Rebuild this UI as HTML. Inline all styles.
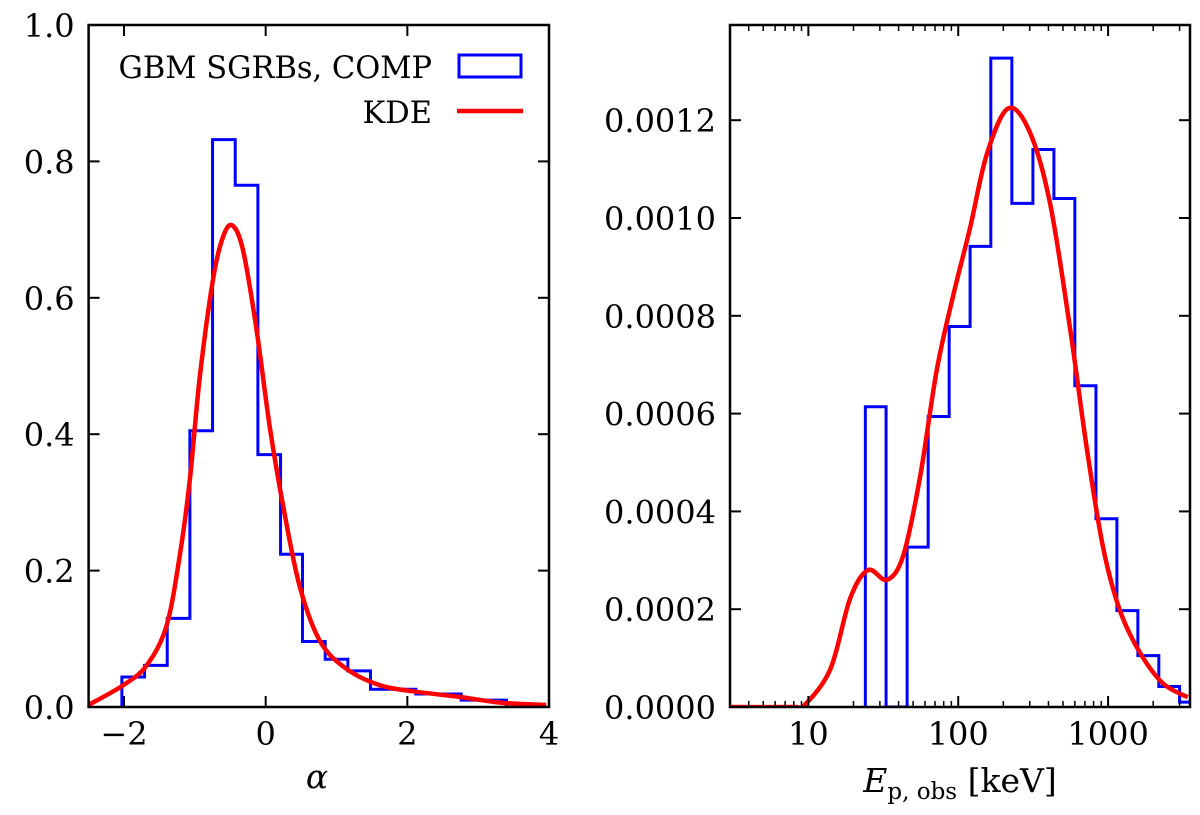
<!DOCTYPE html>
<html><head><meta charset="utf-8"><style>
html,body{margin:0;padding:0;background:#fff}
svg{display:block}
text{font-family:"DejaVu Serif","Liberation Serif",serif;fill:#000}
</style></head><body>
<svg id="chart" width="1200" height="815" viewBox="0 0 1200 815" xmlns="http://www.w3.org/2000/svg">
<g id="left"></g>
<g id="right"></g>
</svg>
<script>
// ---- left panel data (alpha) ----
const alphaEdges = [-2.03,-1.71,-1.39,-1.07,-0.75,-0.43,-0.11,0.21,0.52,0.84,1.16,1.48,1.80,2.12,2.44,2.76,3.08,3.40];
const alphaHist = [0.044,0.061,0.13,0.405,0.832,0.765,0.37,0.224,0.096,0.070,0.053,0.026,0.026,0.019,0.019,0.010,0.010];
const alphaKdeX = [-2.5,-2.01,-1.68,-1.40,-1.21,-1.07,-0.93,-0.74,-0.60,-0.47,-0.32,-0.13,0.06,0.25,0.48,0.77,1.14,1.61,2.08,2.72,3.35,3.96];
const alphaKdeY = [0.003,0.032,0.061,0.119,0.224,0.334,0.484,0.629,0.69,0.706,0.67,0.554,0.409,0.293,0.177,0.096,0.056,0.032,0.023,0.015,0.006,0.003];
const alphaXTicks = [-2,0,2,4];
const alphaXTickLabels = ["\u22122","0","2","4"];
const alphaYTicks = [0,0.2,0.4,0.6,0.8,1.0];
const alphaYTickLabels = ["0.0","0.2","0.4","0.6","0.8","1.0"];
// ---- right panel data (Ep) ----
const epEdges = [24,33,45.6,63,87,120,165,228,315,435,600,830,1145,1580,2180,3000,4150];
const epHist = [0.000614,0,0.000327,0.000594,0.000778,0.000942,0.001327,0.00103,0.00114,0.00104,0.000657,0.000385,0.000197,0.000105,0.000042,0.00001];
const epKdeX = [3,8,9.3,14,19,25,33.5,43,55.6,72,93,120,155,215,300,410,560,720,925,1200,1640,2330,3400];
const epKdeY = [0,0,0.000002,0.000077,0.000222,0.00028,0.00026,0.00031,0.00047,0.00069,0.000844,0.00098,0.00113,0.001224,0.001176,0.00103,0.00077,0.00053,0.000327,0.000197,0.00011,0.000048,0.00002];
const epXTicks = [10,100,1000];
const epXTickLabels = ["10","100","1000"];
const epYTicks = [0,0.0002,0.0004,0.0006,0.0008,0.0010,0.0012];
const epYTickLabels = ["0.0000","0.0002","0.0004","0.0006","0.0008","0.0010","0.0012"];

const NS="http://www.w3.org/2000/svg";
function mk(parent,tag,attrs){const e=document.createElementNS(NS,tag);for(const k in attrs)e.setAttribute(k,attrs[k]);parent.appendChild(e);return e;}

const FS=32;
const TOP=25,BOT=707;
const L={x0:88.6,x1:549,min:-2.5,max:4,ymax:1.0};
const lx=v=>L.x0+(v-L.min)/(L.max-L.min)*(L.x1-L.x0);
const ly=v=>BOT-v/L.ymax*(BOT-TOP);
const R={x0:730,x1:1190,lmin:Math.log10(3),lmax:Math.log10(3520),ymax:(BOT-TOP)/489000};
const rx=v=>R.x0+(Math.log10(v)-R.lmin)/(R.lmax-R.lmin)*(R.x1-R.x0);
const ry=v=>BOT-v/R.ymax*(BOT-TOP);

function stepPath(edges,vals,fx,fy){
  let d="M"+fx(edges[0])+","+fy(0);
  for(let i=0;i<vals.length;i++){d+=" L"+fx(edges[i])+","+fy(vals[i])+" L"+fx(edges[i+1])+","+fy(vals[i]);}
  d+=" L"+fx(edges[edges.length-1])+","+fy(0);
  return d;
}
function smoothPath(xs,ys,fx,fy){
  const p=xs.map((x,i)=>[fx(x),fy(ys[i])]);
  let d="M"+p[0][0]+","+p[0][1];
  for(let i=0;i<p.length-1;i++){
    const p0=p[Math.max(0,i-1)],p1=p[i],p2=p[i+1],p3=p[Math.min(p.length-1,i+2)];
    const c1=[p1[0]+(p2[0]-p0[0])/6,p1[1]+(p2[1]-p0[1])/6];
    const c2=[p2[0]-(p3[0]-p1[0])/6,p2[1]-(p3[1]-p1[1])/6];
    d+=` C${c1[0]},${c1[1]} ${c2[0]},${c2[1]} ${p2[0]},${p2[1]}`;
  }
  return d;
}

// ---- left panel ----
const gl=document.getElementById('left');
const cl=mk(gl,'clipPath',{id:'clipL'});mk(cl,'rect',{x:L.x0,y:TOP,width:L.x1-L.x0,height:BOT-TOP});
const hl=mk(gl,'path',{d:stepPath(alphaEdges,alphaHist,lx,ly),fill:'none',stroke:'#0000ff','stroke-width':3,'clip-path':'url(#clipL)'});


const kl=mk(gl,'path',{d:smoothPath(alphaKdeX,alphaKdeY,lx,ly),fill:'none',stroke:'#ff0000','stroke-width':4.5,'stroke-linejoin':'round','clip-path':'url(#clipL)'});


alphaXTicks.forEach((t,i)=>{
  const x=lx(t);
  mk(gl,'line',{x1:x,x2:x,y1:BOT,y2:BOT-11,stroke:'#000','stroke-width':2});
  mk(gl,'line',{x1:x,x2:x,y1:TOP,y2:TOP+11,stroke:'#000','stroke-width':2});
  const tx=mk(gl,'text',{x:x,y:BOT+38,'text-anchor':'middle','font-size':FS});
  tx.textContent=alphaXTickLabels[i];
  
  
});
alphaYTicks.forEach((t,i)=>{
  const y=ly(t);
  mk(gl,'line',{x1:L.x0,x2:L.x0+11,y1:y,y2:y,stroke:'#000','stroke-width':2});
  mk(gl,'line',{x1:L.x1,x2:L.x1-11,y1:y,y2:y,stroke:'#000','stroke-width':2});
  const tx=mk(gl,'text',{x:L.x0-14,y:y+12,'text-anchor':'end','font-size':FS});
  tx.textContent=alphaYTickLabels[i];
  
  
});
mk(gl,'rect',{x:L.x0,y:TOP,width:L.x1-L.x0,height:BOT-TOP,fill:'none',stroke:'#000','stroke-width':2.5});
const axl=mk(gl,'text',{x:317,y:788,'text-anchor':'middle','font-size':33,'font-style':'italic'});
axl.textContent='α';


// legend
const lg=mk(gl,'g',{});


const lt1=mk(lg,'text',{x:432,y:78,'text-anchor':'end','font-size':30.5});lt1.textContent='GBM SGRBs, COMP';


mk(lg,'rect',{x:459,y:55,width:62,height:22,fill:'none',stroke:'#0000ff','stroke-width':3});
const lt2=mk(lg,'text',{x:432,y:123,'text-anchor':'end','font-size':30.5});lt2.textContent='KDE';


mk(lg,'line',{x1:457,x2:523,y1:111,y2:111,stroke:'#ff0000','stroke-width':4.5});

// ---- right panel ----
const gr=document.getElementById('right');
const cr=mk(gr,'clipPath',{id:'clipR'});mk(cr,'rect',{x:R.x0,y:TOP,width:R.x1-R.x0,height:BOT-TOP});
const hr=mk(gr,'path',{d:stepPath(epEdges,epHist,rx,ry),fill:'none',stroke:'#0000ff','stroke-width':3,'clip-path':'url(#clipR)'});


const kr=mk(gr,'path',{d:smoothPath(epKdeX,epKdeY,rx,ry),fill:'none',stroke:'#ff0000','stroke-width':4.5,'stroke-linejoin':'round','clip-path':'url(#clipR)'});


for(let dec=1;dec<=1000;dec*=10){
  for(let m=1;m<10;m++){
    const v=dec*m; if(v<3||v>3520) continue;
    const x=rx(v); const major=(m===1);
    const len=major?11:6;
    mk(gr,'line',{x1:x,x2:x,y1:BOT,y2:BOT-len,stroke:'#000','stroke-width':major?2:1.5});
    mk(gr,'line',{x1:x,x2:x,y1:TOP,y2:TOP+len,stroke:'#000','stroke-width':major?2:1.5});
  }
}
epXTicks.forEach((t,i)=>{
  const tx=mk(gr,'text',{x:rx(t),y:BOT+38,'text-anchor':'middle','font-size':FS});
  tx.textContent=epXTickLabels[i];
  
  
});
epYTicks.forEach((t,i)=>{
  const y=ry(t);
  mk(gr,'line',{x1:R.x0,x2:R.x0+11,y1:y,y2:y,stroke:'#000','stroke-width':2});
  mk(gr,'line',{x1:R.x1,x2:R.x1-11,y1:y,y2:y,stroke:'#000','stroke-width':2});
  const tx=mk(gr,'text',{x:R.x0-14,y:y+12,'text-anchor':'end','font-size':FS});
  tx.textContent=epYTickLabels[i];
  
  
});
mk(gr,'rect',{x:R.x0,y:TOP,width:R.x1-R.x0,height:BOT-TOP,fill:'none',stroke:'#000','stroke-width':2.5});
const axr=mk(gr,'text',{x:960,y:792,'text-anchor':'middle','font-size':33});
axr.innerHTML='<tspan font-style="italic">E</tspan><tspan font-size="23" dy="7">p, obs</tspan><tspan dy="-7"> [keV]</tspan>';


</script>
</body></html>
